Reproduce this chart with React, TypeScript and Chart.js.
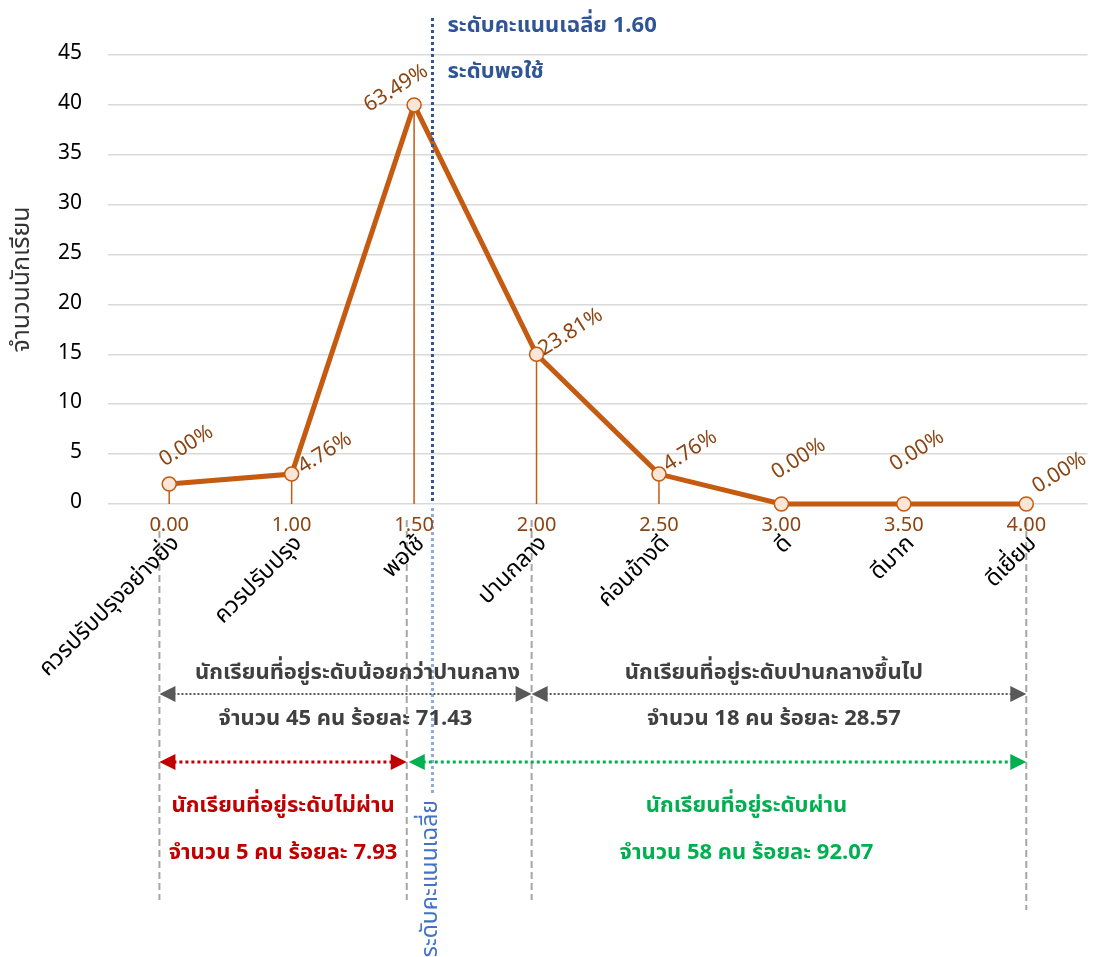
import React, { useEffect, useRef } from "react";
import { Chart, registerables } from "chart.js";
Chart.register(...registerables);

// ---------- data ----------
const scoreLabels = ["0.00", "1.00", "1.50", "2.00", "2.50", "3.00", "3.50", "4.00"];
const levelLabels = ["ควรปรับปรุงอย่างยิ่ง", "ควรปรับปรุง", "พอใช้", "ปานกลาง", "ค่อนข้างดี", "ดี", "ดีมาก", "ดีเยี่ยม"];
const studentCounts = [2, 3, 40, 15, 3, 0, 0, 0];
const percentLabels = ["0.00%", "4.76%", "63.49%", "23.81%", "4.76%", "0.00%", "0.00%", "0.00%"];
const yAxisTitle = "จำนวนนักเรียน";
const yMax = 45;
const yStep = 5;
const meanScoreText = "ระดับคะแนนเฉลี่ย 1.60";
const meanLevelText = "ระดับพอใช้";
const meanAxisText = "ระดับคะแนนเฉลี่ย";
const meanCategoryPos = 2.15; // position of mean (1.60) on the category axis
const boundaryPos = [-0.08, 1.94, 2.96, 7.0]; // group boundaries on the category axis
const upperGroupTexts = [
  ["นักเรียนที่อยู่ระดับน้อยกว่าปานกลาง", "จำนวน 45 คน ร้อยละ 71.43"],
  ["นักเรียนที่อยู่ระดับปานกลางขึ้นไป", "จำนวน 18 คน ร้อยละ 28.57"],
];
const passGroupTexts = [
  ["นักเรียนที่อยู่ระดับไม่ผ่าน", "จำนวน 5 คน ร้อยละ 7.93"],
  ["นักเรียนที่อยู่ระดับผ่าน", "จำนวน 58 คน ร้อยละ 92.07"],
];

// ---------- styles ----------
const FONT = "Tahoma, 'Noto Sans Thai', 'Noto Sans', 'DejaVu Sans', sans-serif";
const ORANGE = "#c55a11";
const LABEL_BROWN = "#8b4513";
const labelOffsets: Array<[number, number, CanvasTextAlign]> = [
  [-7, -21, "left"],
  [9, -4, "left"],
  [13, -34, "right"],
  [5, -2, "left"],
  [7, -6, "left"],
  [-7, -28, "left"],
  [-11, -36, "left"],
  [9, -14, "left"],
];

function arrowHead(ctx: CanvasRenderingContext2D, tipX: number, y: number, dir: number, color: string) {
  ctx.save();
  ctx.fillStyle = color;
  ctx.beginPath();
  ctx.moveTo(tipX, y);
  ctx.lineTo(tipX - dir * 16, y - 8);
  ctx.lineTo(tipX - dir * 16, y + 8);
  ctx.closePath();
  ctx.fill();
  ctx.restore();
}

function dottedArrow(ctx: CanvasRenderingContext2D, x1: number, x2: number, y: number, color: string, width: number, dash: number[]) {
  ctx.save();
  ctx.strokeStyle = color;
  ctx.lineWidth = width;
  ctx.setLineDash(dash);
  ctx.beginPath();
  ctx.moveTo(x1 + 14, y);
  ctx.lineTo(x2 - 14, y);
  ctx.stroke();
  ctx.restore();
  arrowHead(ctx, x1, y, -1, color);
  arrowHead(ctx, x2, y, 1, color);
}

const annotationPlugin = {
  id: "annotations",
  beforeDatasetsDraw(chart: any) {
    const ctx = chart.ctx as CanvasRenderingContext2D;
    const xs = chart.scales.x;
    const ys = chart.scales.y;
    ctx.save();
    ctx.strokeStyle = ORANGE;
    ctx.lineWidth = 1.5;
    studentCounts.forEach((v, i) => {
      if (v <= 0) return;
      const x = xs.getPixelForValue(i);
      ctx.beginPath();
      ctx.moveTo(x, ys.getPixelForValue(v));
      ctx.lineTo(x, ys.getPixelForValue(0));
      ctx.stroke();
    });
    ctx.restore();
  },
  afterDatasetsDraw(chart: any) {
    const ctx = chart.ctx as CanvasRenderingContext2D;
    const xs = chart.scales.x;
    const ys = chart.scales.y;
    const area = chart.chartArea;
    // mean line (upper part)
    const mx = xs.getPixelForValue(meanCategoryPos);
    ctx.save();
    ctx.strokeStyle = "#2f5597";
    ctx.lineWidth = 3;
    ctx.setLineDash([3, 3]);
    ctx.beginPath();
    ctx.moveTo(mx, 18);
    ctx.lineTo(mx, area.bottom);
    ctx.stroke();
    ctx.restore();

    // data labels
    ctx.save();
    ctx.fillStyle = LABEL_BROWN;
    ctx.font = `21px ${FONT}`;
    ctx.textBaseline = "middle";
    studentCounts.forEach((v, i) => {
      const [dx, dy, align] = labelOffsets[i];
      const x = xs.getPixelForValue(i) + dx;
      const y = ys.getPixelForValue(v) + dy;
      ctx.save();
      ctx.translate(x, y);
      ctx.rotate((-32 * Math.PI) / 180);
      ctx.textAlign = align;
      ctx.fillText(percentLabels[i], 0, 0);
      ctx.restore();
    });
    ctx.restore();

    // mean texts
    ctx.save();
    ctx.fillStyle = "#2f5597";
    ctx.font = `bold 22px ${FONT}`;
    ctx.textAlign = "left";
    ctx.textBaseline = "middle";
    ctx.fillText(meanScoreText, mx + 15, 28);
    ctx.fillText(meanLevelText, mx + 15, 74);
    ctx.restore();
  },
  afterDraw(chart: any) {
    const ctx = chart.ctx as CanvasRenderingContext2D;
    const xs = chart.scales.x;
    const area = chart.chartArea;
    const mx = xs.getPixelForValue(meanCategoryPos);

    // y title
    ctx.save();
    ctx.translate(24, (area.top + area.bottom) / 2);
    ctx.rotate(-Math.PI / 2);
    ctx.fillStyle = "#333333";
    ctx.font = `25px ${FONT}`;
    ctx.textAlign = "center";
    ctx.textBaseline = "middle";
    ctx.fillText(yAxisTitle, 0, 0);
    ctx.restore();

    // gray dashed boundaries
    const bx = boundaryPos.map((p) => xs.getPixelForValue(p));
    ctx.save();
    ctx.strokeStyle = "#a6a6a6";
    ctx.lineWidth = 2;
    ctx.setLineDash([7, 4]);
    bx.forEach((x, k) => {
      ctx.beginPath();
      ctx.moveTo(x, area.bottom + 16);
      ctx.lineTo(x, k === 3 ? 910 : 900);
      ctx.stroke();
    });
    ctx.restore();

    // mean line (lower part)
    ctx.save();
    ctx.strokeStyle = "#8faadc";
    ctx.lineWidth = 3;
    ctx.setLineDash([3, 3]);
    ctx.beginPath();
    ctx.moveTo(mx, area.bottom + 4);
    ctx.lineTo(mx, 796);
    ctx.stroke();
    ctx.restore();
    ctx.save();
    ctx.translate(mx, 800);
    ctx.rotate(-Math.PI / 2);
    ctx.fillStyle = "#4472c4";
    ctx.font = `23px ${FONT}`;
    ctx.textAlign = "right";
    ctx.textBaseline = "middle";
    ctx.fillText(meanAxisText, 0, 0);
    ctx.restore();

    // x labels: scores and levels
    ctx.save();
    scoreLabels.forEach((s, i) => {
      const x = xs.getPixelForValue(i);
      ctx.fillStyle = LABEL_BROWN;
      ctx.font = `20px ${FONT}`;
      ctx.textAlign = "center";
      ctx.textBaseline = "middle";
      ctx.fillText(s, x, area.bottom + 23);
      ctx.save();
      ctx.translate(x + 8, area.bottom + 37);
      ctx.rotate(-Math.PI / 4);
      ctx.fillStyle = "#000000";
      ctx.font = `23px ${FONT}`;
      ctx.textAlign = "right";
      ctx.textBaseline = "middle";
      ctx.fillText(levelLabels[i], 0, 0);
      ctx.restore();
    });
    ctx.restore();

    // arrows
    dottedArrow(ctx, bx[0], bx[2], 694, "#595959", 2, [2, 2]);
    dottedArrow(ctx, bx[2], bx[3], 694, "#595959", 2, [2, 2]);
    dottedArrow(ctx, bx[0], bx[1], 762, "#c00000", 3, [3, 3]);
    dottedArrow(ctx, bx[1] + 2, bx[3], 762, "#00b050", 3, [3, 3]);

    // group texts
    ctx.save();
    ctx.font = `bold 22px ${FONT}`;
    ctx.textAlign = "center";
    ctx.textBaseline = "middle";
    ctx.fillStyle = "#404040";
    ctx.fillText(upperGroupTexts[0][0], (bx[0] + bx[2]) / 2 + 12, 675);
    ctx.fillText(upperGroupTexts[0][1], (bx[0] + bx[2]) / 2, 721);
    ctx.fillText(upperGroupTexts[1][0], (bx[2] + bx[3]) / 2 - 5, 675);
    ctx.fillText(upperGroupTexts[1][1], (bx[2] + bx[3]) / 2 - 5, 721);
    ctx.fillStyle = "#c00000";
    ctx.fillText(passGroupTexts[0][0], (bx[0] + bx[1]) / 2, 808);
    ctx.fillText(passGroupTexts[0][1], (bx[0] + bx[1]) / 2, 855);
    ctx.fillStyle = "#00b050";
    ctx.fillText(passGroupTexts[1][0], (bx[1] + bx[3]) / 2 + 30, 808);
    ctx.fillText(passGroupTexts[1][1], (bx[1] + bx[3]) / 2 + 30, 855);
    ctx.restore();
  },
};

export default function App() {
  const canvasRef = useRef<HTMLCanvasElement | null>(null);
  useEffect(() => {
    if (!canvasRef.current) return;
    const chart = new Chart(canvasRef.current, {
      type: "line",
      data: {
        labels: scoreLabels,
        datasets: [
          {
            data: studentCounts,
            borderColor: ORANGE,
            borderWidth: 5,
            pointRadius: 7,
            pointBackgroundColor: "#fbe5d6",
            pointBorderColor: ORANGE,
            pointBorderWidth: 1.5,
            tension: 0,
            clip: false as any,
          },
        ],
      },
      options: {
        animation: false,
        responsive: false,
        layout: { padding: { left: 8, right: 6, top: 55, bottom: 453 } },
        plugins: { legend: { display: false }, tooltip: { enabled: false } },
        scales: {
          x: { type: "category", offset: true, display: false },
          y: {
            min: 0,
            max: yMax,
            afterFit: (scale: any) => {
              scale.width = 100;
            },
            ticks: {
              stepSize: yStep,
              padding: 26,
              color: "#000000",
              font: { family: FONT, size: 21 },
            },
            grid: { color: "#d9d9d9", lineWidth: 1.5, drawTicks: false },
            border: { display: false },
          },
        },
      },
      plugins: [annotationPlugin],
    });
    return () => chart.destroy();
  }, []);
  return (
    <div style={{ position: "absolute", left: 0, top: 0, width: 1096, height: 957 }}>
      <canvas ref={canvasRef} width={1096} height={957} />
    </div>
  );
}
